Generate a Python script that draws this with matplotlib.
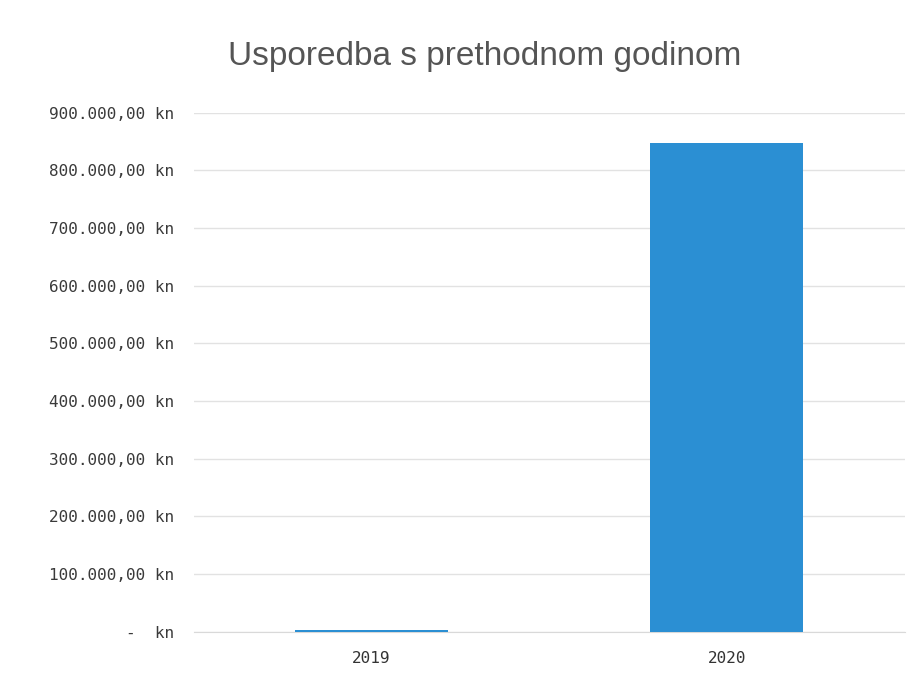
#!/usr/bin/env python3

"""
<file>    plot.py
<brief>   Usporedba s prethodnom godinom - bar chart
"""

import matplotlib.pyplot as plt
from matplotlib.ticker import FuncFormatter

years = ["2019", "2020"]
amounts = [2500, 848000]
y_ticks = [0, 100000, 200000, 300000, 400000, 500000, 600000, 700000, 800000, 900000]


def kn_format(v, pos):
    if v == 0:
        return "-  kn"
    s = "{:,.2f}".format(v)
    s = s.replace(",", "X").replace(".", ",").replace("X", ".")
    return s + " kn"


fig = plt.figure(figsize=(9.23, 6.83), dpi=100)
ax = fig.add_axes([0.21, 0.075, 0.77, 0.76])

x = range(len(years))
ax.bar(x, amounts, width=0.43, color="#2b8fd3", zorder=3)

ax.set_xticks(list(x))
ax.set_xticklabels(years, fontsize=11.5, color="#333333", family="DejaVu Sans Mono")
ax.set_xlim(-0.5, 1.5)
ax.set_ylim(0, 900000)
ax.set_yticks(y_ticks)
ax.yaxis.set_major_formatter(FuncFormatter(kn_format))
for lbl in ax.get_yticklabels():
    lbl.set_fontsize(11.5)
    lbl.set_color("#3a3a3a")
    lbl.set_family("DejaVu Sans Mono")

ax.grid(axis="y", color="#e2e2e2", linewidth=1, zorder=0)
ax.tick_params(axis="both", length=0, pad=14)
for side in ["top", "right", "left"]:
    ax.spines[side].set_visible(False)
ax.spines["bottom"].set_color("#d9d9d9")

fig.suptitle("Usporedba s prethodnom godinom", fontsize=24, color="#555555",
             family="Liberation Sans", x=0.525, y=0.94)

plt.savefig("out.png")
plt.close()
